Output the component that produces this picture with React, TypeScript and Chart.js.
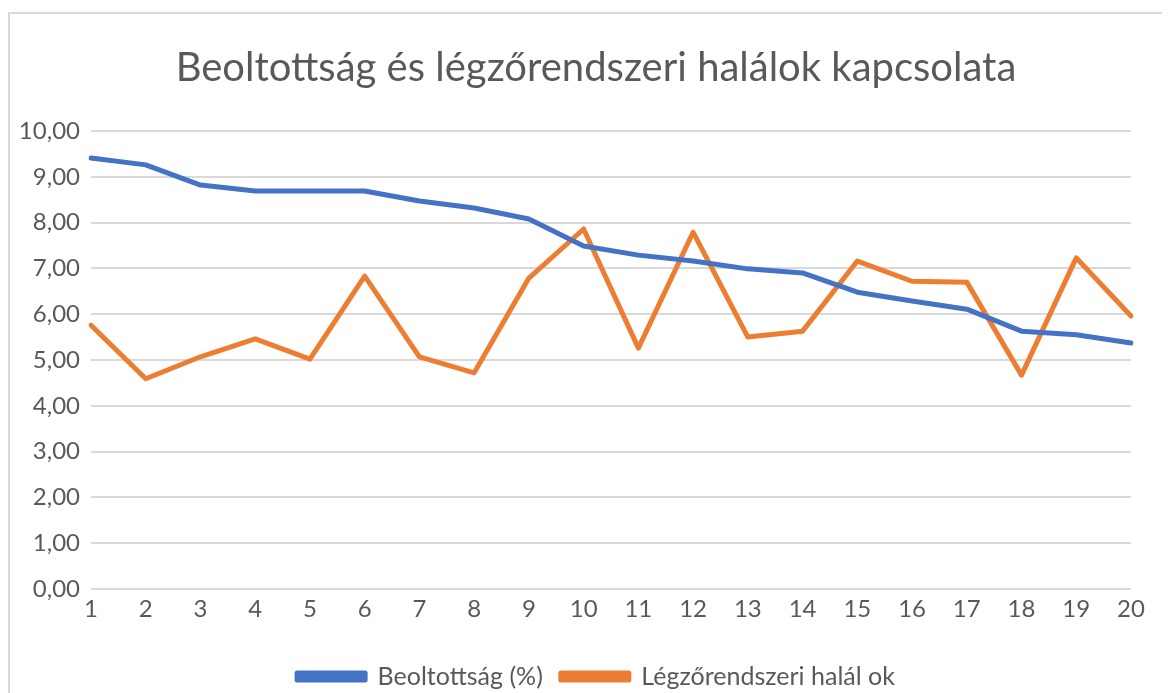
import React, { useEffect, useRef } from "react";
import { Chart, registerables } from "chart.js";

Chart.register(...registerables);

const categories = ["1","2","3","4","5","6","7","8","9","10","11","12","13","14","15","16","17","18","19","20"];
const beoltottsag = [9.41, 9.26, 8.82, 8.69, 8.69, 8.69, 8.47, 8.32, 8.08, 7.49, 7.29, 7.16, 6.99, 6.90, 6.48, 6.29, 6.11, 5.63, 5.55, 5.37];
const legzoHalal = [5.76, 4.59, 5.07, 5.46, 5.02, 6.83, 5.07, 4.72, 6.79, 7.86, 5.26, 7.79, 5.50, 5.63, 7.16, 6.72, 6.70, 4.67, 7.23, 5.96];
const seriesNames = ["Beoltottság (%)", "Légzőrendszeri halál ok"];
const titleText = "Beoltottság és légzőrendszeri halálok kapcsolata";

const FONT = "Lato, 'Open Sans', sans-serif";
const TEXT = "#595959";

export default function App() {
  const ref = useRef<HTMLCanvasElement>(null);
  useEffect(() => {
    if (!ref.current) return;
    const chart = new Chart(ref.current, {
      type: "line",
      data: {
        labels: categories,
        datasets: [
          {
            label: seriesNames[0],
            data: beoltottsag,
            borderColor: "#4472C4",
            backgroundColor: "#4472C4",
            borderWidth: 5,
            pointRadius: 0,
            tension: 0,
            borderJoinStyle: "round",
            borderCapStyle: "round",
          },
          {
            label: seriesNames[1],
            data: legzoHalal,
            borderColor: "#ED7D31",
            backgroundColor: "#ED7D31",
            borderWidth: 5,
            pointRadius: 0,
            tension: 0,
            borderJoinStyle: "round",
            borderCapStyle: "round",
          },
        ],
      },
      options: {
        animation: false,
        responsive: false,
        maintainAspectRatio: false,
        layout: { padding: { left: 0, right: -12, top: 0, bottom: -5 } },
        plugins: {
          title: {
            display: true,
            text: titleText,
            color: TEXT,
            font: { family: FONT, size: 40, weight: "normal" },
            padding: { top: 30, bottom: 39 },
          },
          legend: {
            position: "bottom",
            labels: {
              color: TEXT,
              font: { family: FONT, size: 25 },
              boxWidth: 68,
              boxHeight: 7,
              padding: 18,
            },
          },
          tooltip: { enabled: false },
        },
        scales: {
          x: {
            type: "category",
            offset: false,
            grid: { display: false, drawTicks: false },
            border: { display: false },
            ticks: {
              color: TEXT,
              font: { family: FONT, size: 24 },
              padding: 6,
              maxRotation: 0,
              autoSkip: false,
            },
            afterFit: (scale: any) => {
              scale.height = 57;
              scale.paddingRight = 39;
            },
          },
          y: {
            min: 0,
            max: 10,
            grid: { color: "#d9d9d9", lineWidth: 2, drawTicks: false },
            border: { display: false },
            ticks: {
              stepSize: 1,
              color: TEXT,
              font: { family: FONT, size: 24 },
              padding: 11,
              callback: (v: any) => Number(v).toFixed(2).replace(".", ","),
            },
            afterFit: (scale: any) => {
              scale.width = 81;
            },
          },
        },
      },
    });
    return () => chart.destroy();
  }, []);

  return (
    <div style={{ width: 1162, height: 685, overflow: "hidden" }}>
      <div
        style={{
          marginTop: 4,
          borderLeft: "2px solid #d9d9d9",
          borderTop: "2px solid #d9d9d9",
          width: 1170,
          height: 690,
          boxSizing: "border-box",
          background: "#fff",
        }}
      >
        <canvas ref={ref} width={1160} height={680} style={{ display: "block" }} />
      </div>
    </div>
  );
}
